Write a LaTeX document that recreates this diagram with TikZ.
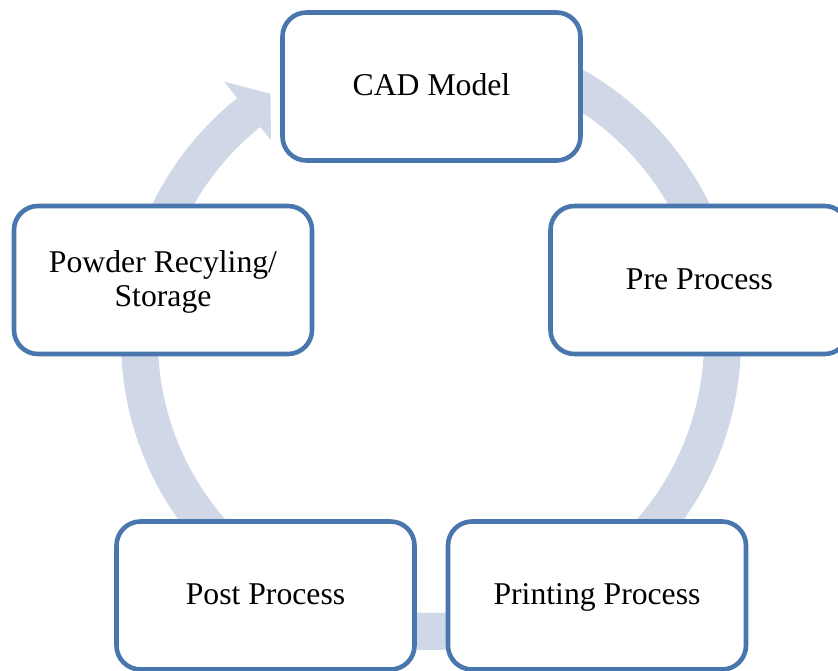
\documentclass[tikz,border=0pt]{standalone}
\usepackage{fontspec}
\setmainfont{Liberation Serif}
\definecolor{stageedge}{HTML}{4A76AE}
\definecolor{cyclering}{HTML}{D0D8E8}
\tikzset{
  stagebox/.style={draw=stageedge, line width=4.6pt, fill=white,
    rounded corners=24pt, minimum width=298pt, minimum height=148pt,
    inner sep=0pt, align=center, text=black,
    text height=25pt, text depth=6pt,
    font=\fontsize{31.7}{33.7}\selectfont},
}
\begin{document}
\begin{tikzpicture}[x=1pt, y=1pt]
  \useasboundingbox (0,0) rectangle (838,671);
  \clip (0,0) rectangle (838,671);

  % circular arrow running clockwise behind the stages
  \begin{scope}[shift={(431,331)}]
    \fill[cyclering]
      (88:310) arc[start angle=88, end angle=-231.3, radius=310]
      -- (128.7:331) -- (123.1:294) -- (128.7:256)
      -- (128.7:273) arc[start angle=-231.3, end angle=88, radius=273]
      -- cycle;
  \end{scope}

  % process stages
  \node[stagebox] (cad)   at (431.5,584.5) {CAD Model};
  \node[stagebox] (pre)   at (699.5,391)   {Pre Process};
  \node[stagebox] (print) at (597,75.5)    {Printing Process};
  \node[stagebox] (post)  at (265.5,75.5)  {Post Process};
  \node[stagebox, text height=58.7pt] (powder) at (163,391)
    {Powder Recyling/\\Storage};
\end{tikzpicture}
\end{document}
